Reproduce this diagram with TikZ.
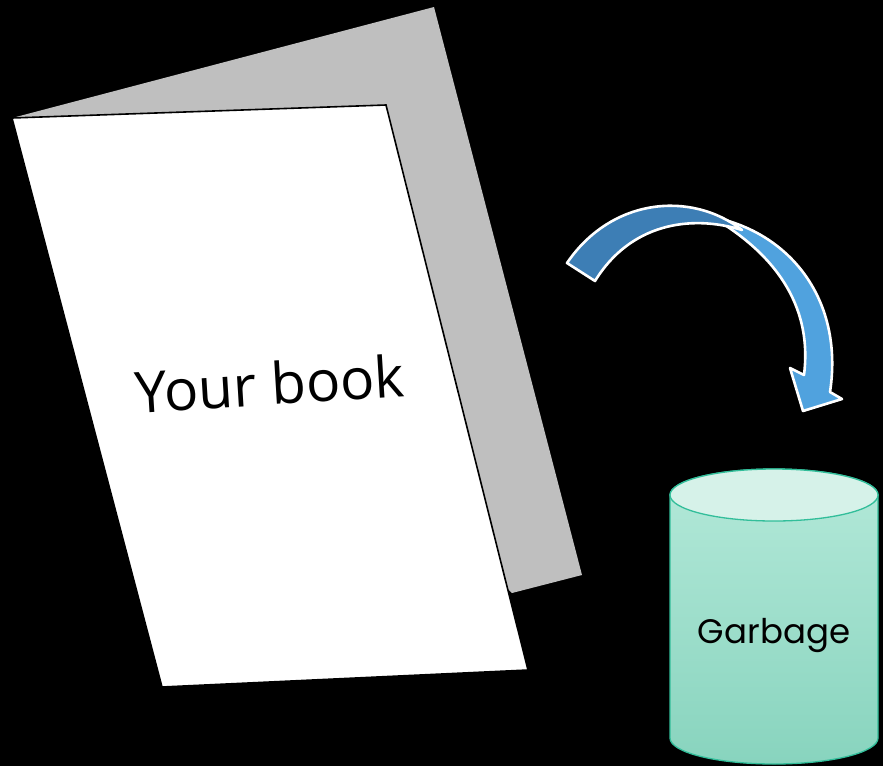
\documentclass[tikz,border=0pt]{standalone}
\usepackage{fontspec}
\setmainfont{Open Sans}
\newfontfamily\binfont{Poppins}
\usetikzlibrary{positioning}
\definecolor{pagegray}{RGB}{191,191,191}
\definecolor{arrowdark}{RGB}{61,126,181}
\definecolor{arrowlight}{RGB}{80,162,222}
\definecolor{binedge}{RGB}{50,190,154}
\definecolor{bintop}{RGB}{180,233,217}
\definecolor{binbot}{RGB}{136,212,190}
\definecolor{bincap}{RGB}{214,242,233}

\begin{document}
\begin{tikzpicture}[x=1pt, y=-1pt,
 backpage/.style={fill=pagegray},
 frontpage/.style={fill=white, draw=black, line width=1.6pt, line join=miter},
 band/.style={draw=white, line width=2.6pt, line join=round},
 bin/.style={top color=bintop, bottom color=binbot, draw=binedge, line width=1.3pt},
 label/.style={inner sep=0pt, anchor=base}]
\useasboundingbox[fill=black] (0,0) rectangle (883,766);
\fill[backpage] (12,118) -- (434,7) -- (582,575) -- (512,593) -- cycle;
\draw[frontpage] (12,118) -- (386,105) -- (528,670) -- (162,687) -- cycle;
\node[label, rotate=3.5, font=\fontsize{57}{64}\selectfont] (book) at (271,405) {Your book};
\draw[band, fill=arrowlight] (712,217) .. controls (790,232) and (844,300) .. (830,392)
  -- (842,399) -- (803,411) -- (790,368) -- (804,375)
  .. controls (812,312) and (782,258) .. (712,217) -- cycle;
\draw[band, fill=arrowdark] (567,263) .. controls (612,197) and (692,191) .. (742,230)
  .. controls (690,214) and (630,224) .. (595,281) -- cycle;
\shade[bin] (670,495) -- (670,738) arc[start angle=180, end angle=0, x radius=104, y radius=26]
  -- (878,495) arc[start angle=0, end angle=-180, x radius=104, y radius=26] -- cycle;
\filldraw[fill=bincap, draw=binedge, line width=1.3pt] (774,495) ellipse[x radius=104, y radius=26];
\node[label, font=\binfont\fontsize{34}{40}\selectfont] (garbage) at (774,643) {Garbage};
\end{tikzpicture}
\end{document}
